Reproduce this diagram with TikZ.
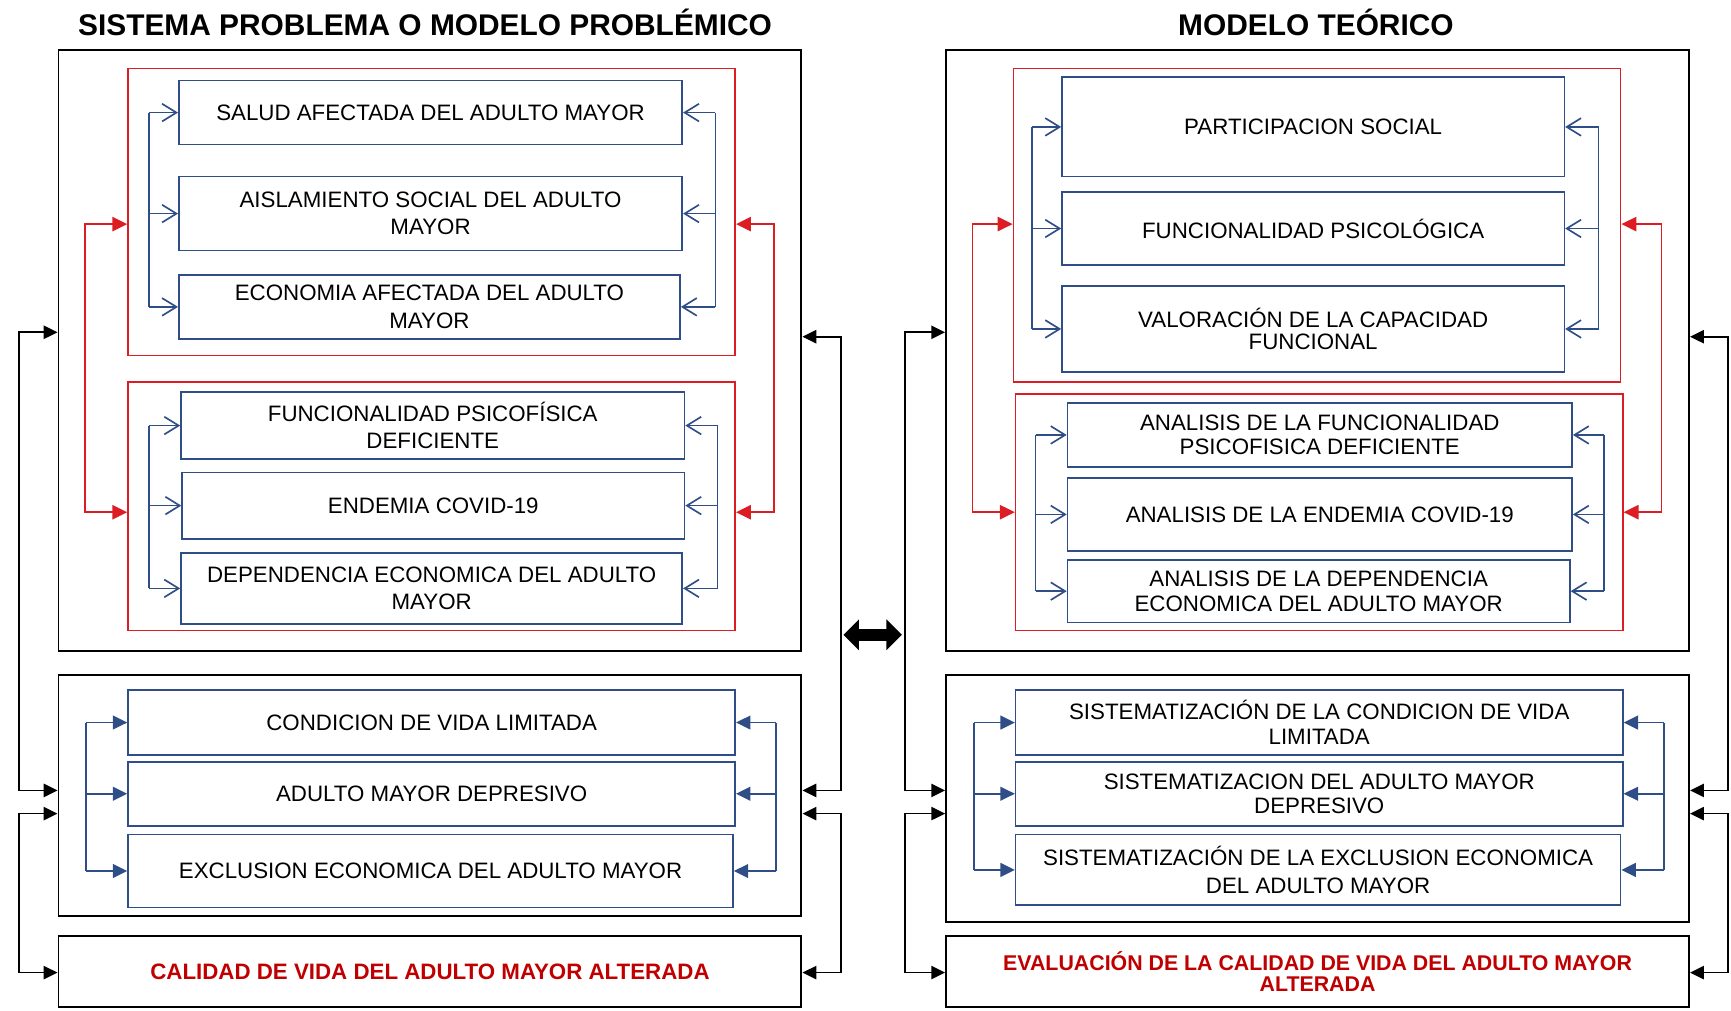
\documentclass[tikz,border=0pt]{standalone}
\usepackage{fontspec}
\setmainfont{Liberation Sans}
\usetikzlibrary{arrows.meta}
\definecolor{azul}{HTML}{2F4D86}
\definecolor{rojo}{HTML}{DC1E24}
\definecolor{rojotexto}{HTML}{C00000}

\begin{document}
\begin{tikzpicture}[x=0.2mm, y=-0.2mm,
    marco/.style={draw, line width=0.36mm, inner sep=0pt},
    grupo/.style={draw=rojo, line width=0.3mm, inner sep=0pt},
    caja/.style={draw=azul, line width=0.3mm, align=center, inner sep=1pt,
                 font=\fontsize{11.5}{14}\selectfont},
    cajat/.style={caja, font=\fontsize{11.5}{12.6}\selectfont},
    titulo/.style={font=\fontsize{15.4}{18}\selectfont\bfseries, anchor=base},
    resultado/.style={marco, align=center, text=rojotexto,
                      font=\fontsize{11.5}{11.5}\selectfont\bfseries},
    abierta/.style={draw=azul, line width=0.3mm, -{Straight Barb[length=2.6mm,width=3.2mm]}},
    llena/.style={draw=azul, line width=0.3mm, -{Triangle[length=2.6mm,width=2.5mm]}},
    roja/.style={draw=rojo, line width=0.3mm,
                 {Triangle[length=2.7mm,width=2.6mm]}-{Triangle[length=2.7mm,width=2.6mm]}},
    negra/.style={draw, line width=0.3mm,
                  {Triangle[length=2.5mm,width=2.4mm]}-{Triangle[length=2.5mm,width=2.4mm]}},
    bus/.style={draw=azul, line width=0.3mm},
]
\useasboundingbox (0,0) rectangle (1568,915);

%% Titulos
\node[titulo] (tit1) at (385,32)  {SISTEMA PROBLEMA O MODELO PROBLÉMICO};
\node[titulo] (tit2) at (1192,32) {MODELO TEÓRICO};

%% Sistema problema (izquierda)
\node[marco, minimum width=134.6mm, minimum height=109mm]  (A1) at (389.5,317.5) {};
\node[grupo, minimum width=110mm, minimum height=52mm]     (R1) at (391,192) {};
\node[caja, minimum width=91.2mm, minimum height=11.6mm]   (s1) at (390,102)
    {SALUD AFECTADA DEL ADULTO MAYOR};
\node[caja, minimum width=91.2mm, minimum height=13.4mm]   (s2) at (390,193.5)
    {AISLAMIENTO SOCIAL DEL ADULTO\\MAYOR};
\node[caja, minimum width=90.8mm, minimum height=11.6mm]   (s3) at (389,278)
    {ECONOMIA AFECTADA DEL ADULTO\\MAYOR};
\node[grupo, minimum width=110mm, minimum height=45mm]     (R2) at (391,458.5) {};
\node[caja, minimum width=91.2mm, minimum height=12.2mm]   (s4) at (392,385.5)
    {FUNCIONALIDAD PSICOFÍSICA\\DEFICIENTE};
\node[caja, minimum width=91mm, minimum height=12mm]       (s5) at (392.5,458)
    {ENDEMIA COVID-19};
\node[caja, minimum width=90.8mm, minimum height=12.8mm]   (s6) at (391,533)
    {DEPENDENCIA ECONOMICA DEL ADULTO\\MAYOR};

\node[marco, minimum width=134.6mm, minimum height=43.8mm] (A2) at (389.5,720.5) {};
\node[caja, minimum width=110mm, minimum height=11.8mm]    (c1) at (391,654.5)
    {CONDICION DE VIDA LIMITADA};
\node[caja, minimum width=110mm, minimum height=11.6mm]    (c2) at (391,719)
    {ADULTO MAYOR DEPRESIVO};
\node[caja, minimum width=109.6mm, minimum height=13.2mm]  (c3) at (390,789)
    {EXCLUSION ECONOMICA DEL ADULTO MAYOR};

\node[resultado, minimum width=134.6mm, minimum height=12.8mm] (A3) at (389.5,880)
    {CALIDAD DE VIDA DEL ADULTO MAYOR ALTERADA};

%% Modelo teorico (derecha)
\node[marco, minimum width=134.6mm, minimum height=109mm]  (B1) at (1193.5,317.5) {};
\node[grupo, minimum width=110mm, minimum height=56.8mm]   (Q1) at (1193,204) {};
\node[cajat, minimum width=91mm, minimum height=18mm]      (t1) at (1189.5,115)
    {PARTICIPACION SOCIAL};
\node[cajat, minimum width=91mm, minimum height=13.2mm]    (t2) at (1189.5,207)
    {FUNCIONALIDAD PSICOLÓGICA};
\node[cajat, minimum width=91mm, minimum height=15.6mm,
      font=\fontsize{11.5}{11.5}\selectfont]               (t3) at (1189.5,298)
    {VALORACIÓN DE LA CAPACIDAD\\FUNCIONAL};
\node[grupo, minimum width=110mm, minimum height=42.8mm]   (Q2) at (1195,464) {};
\node[cajat, minimum width=91.4mm, minimum height=11.6mm]  (t4) at (1195.5,394)
    {ANALISIS DE LA FUNCIONALIDAD\\PSICOFISICA DEFICIENTE};
\node[cajat, minimum width=91.4mm, minimum height=13.2mm]  (t5) at (1195.5,466)
    {ANALISIS DE LA ENDEMIA COVID-19};
\node[cajat, minimum width=91mm, minimum height=11.4mm]    (t6) at (1194.5,535.5)
    {ANALISIS DE LA DEPENDENCIA\\ECONOMICA DEL ADULTO MAYOR};

\node[marco, minimum width=134.6mm, minimum height=44.8mm] (B2) at (1193.5,723) {};
\node[cajat, minimum width=110mm, minimum height=11.8mm]   (u1) at (1195,654.5)
    {SISTEMATIZACIÓN DE LA CONDICION DE VIDA\\LIMITADA};
\node[cajat, minimum width=110mm, minimum height=11.6mm]   (u2) at (1195,719)
    {SISTEMATIZACION DEL ADULTO MAYOR\\DEPRESIVO};
\node[caja, minimum width=109.6mm, minimum height=12.8mm]  (u3) at (1194,788)
    {SISTEMATIZACIÓN DE LA EXCLUSION ECONOMICA\\DEL ADULTO MAYOR};

\node[resultado, minimum width=134.6mm, minimum height=12.8mm,
      font=\fontsize{11}{11}\selectfont\bfseries]          (B3) at (1193.5,880)
    {EVALUACIÓN DE LA CALIDAD DE VIDA DEL ADULTO MAYOR\\ALTERADA};

%% Buses azules de cada grupo
\foreach \p/\q/\s/\xi/\xd/\tipo in {s1/s2/s3/135/648/abierta, s4/s5/s6/135/650/abierta,
    t1/t2/t3/935/1448/abierta, t4/t5/t6/938/1453/abierta,
    c1/c2/c3/78/703/llena, u1/u2/u3/882/1507/llena}{
  \coordinate (izq) at (\xi,0);
  \coordinate (der) at (\xd,0);
  \draw[bus] (\p.west -| izq) -- (\s.west -| izq);
  \draw[bus] (\p.east -| der) -- (\s.east -| der);
  \foreach \x in {\p,\q,\s}{
    \draw[\tipo] (\x.west -| izq) -- (\x.west);
    \draw[\tipo] (\x.east -| der) -- (\x.east);
  }
}

%% Niveles de las flechas exteriores
\coordinate (n1) at (0,203);
\coordinate (n2) at (0,464);
\coordinate (n3) at (0,301);
\coordinate (n4) at (0,305);
\coordinate (n5) at (0,716);
\coordinate (n6) at (0,737);
\coordinate (n7) at (0,881);

%% Enlaces rojos entre grupos
\foreach \ra/\rb/\xi/\xd in {R1/R2/77/701, Q1/Q2/881/1505}{
  \coordinate (izq) at (\xi,0);
  \coordinate (der) at (\xd,0);
  \draw[roja] (\ra.west |- n1) -- (izq |- n1) -- (izq |- n2) -- (\rb.west |- n2);
  \draw[roja] (\ra.east |- n1) -- (der |- n1) -- (der |- n2) -- (\rb.east |- n2);
}

%% Enlaces negros entre marcos
\foreach \m/\xi/\xd in {A/17/762, B/820/1565}{
  \coordinate (izq) at (\xi,0);
  \coordinate (der) at (\xd,0);
  \draw[negra] (\m1.west |- n3) -- (izq |- n3) -- (izq |- n5) -- (\m2.west |- n5);
  \draw[negra] (\m2.west |- n6) -- (izq |- n6) -- (izq |- n7) -- (\m3.west |- n7);
  \draw[negra] (\m1.east |- n4) -- (der |- n4) -- (der |- n5) -- (\m2.east |- n5);
  \draw[negra] (\m2.east |- n6) -- (der |- n6) -- (der |- n7) -- (\m3.east |- n7);
}

%% Relacion entre modelos
\coordinate (d1) at (764,575);
\coordinate (d2) at (817,575);
\draw[line width=2.2mm, {Triangle[length=2.8mm,width=5.4mm]}-{Triangle[length=2.8mm,width=5.4mm]}]
    (d1) -- (d2);
\end{tikzpicture}
\end{document}
